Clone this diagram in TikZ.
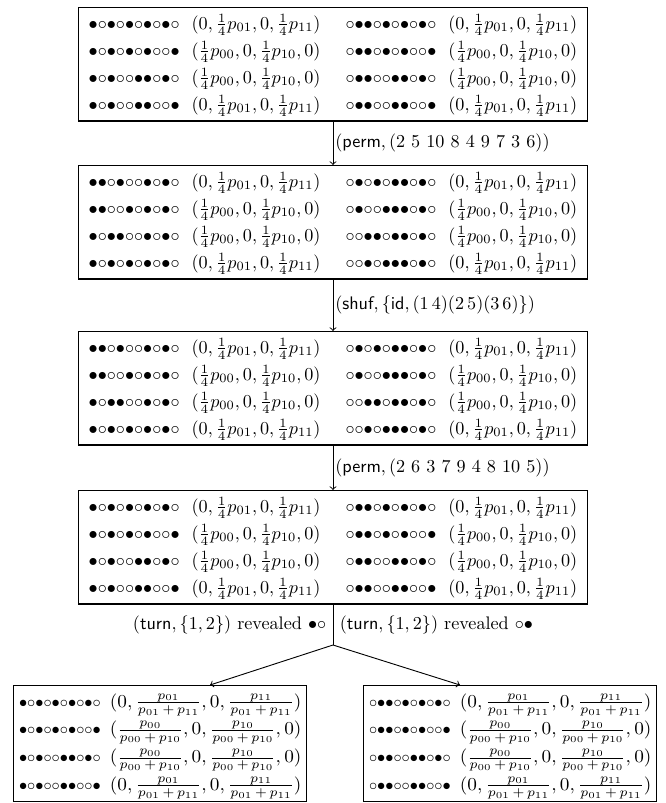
\documentclass[tikz,border=0pt]{standalone}
\usepackage{graphicx}
\usetikzlibrary{calc}
\renewcommand{\arraystretch}{1.2375}
\def\seqloop#1{\ifx#1\relax\else\ifx#1B{\bullet}\else{\circ}\fi\expandafter\seqloop\fi}
\newcommand\sq[1]{$\seqloop#1\relax$}
\newcommand\sqs[1]{\scalebox{0.9}{\sq{#1}}}
\newcommand\tupA{$(0,\frac14p_{01},0,\frac14p_{11})$}
\newcommand\tupB{$(\frac14p_{00},0,\frac14p_{10},0)$}
\newcommand\pl{\mkern3mu+\mkern3mu}
\newcommand\fracA{\scalebox{1.06}[1]{$(0,\frac{p_{01}}{p_{01}\pl p_{11}},0,\frac{p_{11}}{p_{01}\pl p_{11}})$}}
\newcommand\fracB{\scalebox{1.06}[1]{$(\frac{p_{00}}{p_{00}\pl p_{10}},0,\frac{p_{10}}{p_{00}\pl p_{10}},0)$}}
\begin{document}
\begin{tikzpicture}[x=0.55pt,y=-0.55pt,
  box/.style={draw,line width=0.6pt,inner xsep=5.5pt,inner ysep=1.5pt,anchor=north},
  bbox/.style={draw,line width=0.6pt,inner xsep=3pt,inner ysep=1.5pt,anchor=north west},
  arr/.style={->,line width=0.5pt},
  lab/.style={right,inner sep=1pt},
  tlab/.style={inner sep=3.5pt}]
\useasboundingbox (0,0) rectangle (665,803);
\node[box] (b1) at (333,7) {\begin{tabular}{@{}l@{\hspace{6.6pt}}l@{\hspace{13.75pt}}l@{\hspace{6.6pt}}l@{}}
\sq{BWBWBWBWBW} & \tupA & \sq{WBBWBWBWBW} & \tupA\\
\sq{BWBWBWBWWB} & \tupB & \sq{WBBWBWBWWB} & \tupB\\
\sq{BWBWWBBWBW} & \tupB & \sq{WBBWWBBWBW} & \tupB\\
\sq{BWBWWBBWWB} & \tupA & \sq{WBBWWBBWWB} & \tupA
\end{tabular}};
\node[box] (b2) at (333,165) {\begin{tabular}{@{}l@{\hspace{6.6pt}}l@{\hspace{13.75pt}}l@{\hspace{6.6pt}}l@{}}
\sq{BBWBWWBWBW} & \tupA & \sq{WBWBWBBWBW} & \tupA\\
\sq{BBWWBWBWBW} & \tupB & \sq{WBWWBBBWBW} & \tupB\\
\sq{BWBBWWBWBW} & \tupB & \sq{WWBBWBBWBW} & \tupB\\
\sq{BWBWBWBWBW} & \tupA & \sq{WWBWBBBWBW} & \tupA
\end{tabular}};
\node[box] (b3) at (333,331) {\begin{tabular}{@{}l@{\hspace{6.6pt}}l@{\hspace{13.75pt}}l@{\hspace{6.6pt}}l@{}}
\sq{BBWBWWBWBW} & \tupA & \sq{WBWBWBBWBW} & \tupA\\
\sq{BBWWBWBWBW} & \tupB & \sq{WBWWBBBWBW} & \tupB\\
\sq{BWBBWWBWBW} & \tupB & \sq{WWBBWBBWBW} & \tupB\\
\sq{BWBWBWBWBW} & \tupA & \sq{WWBWBBBWBW} & \tupA
\end{tabular}};
\node[box] (b4) at (333,490) {\begin{tabular}{@{}l@{\hspace{6.6pt}}l@{\hspace{13.75pt}}l@{\hspace{6.6pt}}l@{}}
\sq{BWBWBWBWBW} & \tupA & \sq{WBBWBWBWBW} & \tupA\\
\sq{BWBWBWBWWB} & \tupB & \sq{WBBWBWBWWB} & \tupB\\
\sq{BWBWWBBWBW} & \tupB & \sq{WBBWWBBWBW} & \tupB\\
\sq{BWBWWBBWWB} & \tupA & \sq{WBBWWBBWWB} & \tupA
\end{tabular}};
\node[bbox] (l1) at (13,685) {\begin{tabular}{@{}l@{\hspace{5pt}}l@{}}
\sqs{BWBWBWBWBW} & \fracA\\
\sqs{BWBWBWBWWB} & \fracB\\
\sqs{BWBWWBBWBW} & \fracB\\
\sqs{BWBWWBBWWB} & \fracA
\end{tabular}};
\node[bbox] (r1) at (363,685) {\begin{tabular}{@{}l@{\hspace{5pt}}l@{}}
\sqs{WBBWBWBWBW} & \fracA\\
\sqs{WBBWBWBWWB} & \fracB\\
\sqs{WBBWWBBWBW} & \fracB\\
\sqs{WBBWWBBWWB} & \fracA
\end{tabular}};
\coordinate (j) at (333,645);
\draw[arr] (b1.south) -- node[lab]{$(\textsf{perm},(2\ 5\ 10\ 8\ 4\ 9\ 7\ 3\ 6))$} (b2.north);
\draw[arr] (b2.south) -- node[lab]{$(\textsf{shuf},\{\textsf{id},(1\,4)(2\,5)(3\,6)\})$} (b3.north);
\draw[arr] (b3.south) -- node[lab]{$(\textsf{perm},(2\ 6\ 3\ 7\ 9\ 4\ 8\ 10\ 5))$} (b4.north);
\draw[line width=0.5pt] (b4.south) -- node[tlab,left]{$(\textsf{turn},\{1,2\})$ revealed ${\bullet}{\circ}$} node[tlab,right]{$(\textsf{turn},\{1,2\})$ revealed ${\circ}{\bullet}$} (j);
\draw[arr] (j) -- ([xshift=108.35pt]l1.north west);
\draw[arr] (j) -- ([xshift=53.35pt]r1.north west);
\end{tikzpicture}
\end{document}
